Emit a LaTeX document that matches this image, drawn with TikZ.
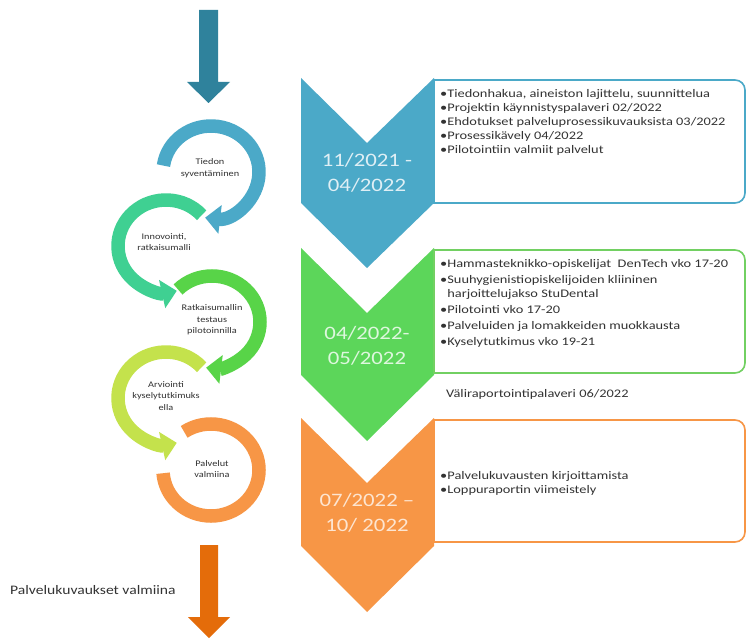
\documentclass[tikz,border=0pt]{standalone}
\usepackage{fontspec}
\setmainfont{Carlito}
\newfontfamily\wf[FakeStretch=1.2]{Carlito}
\newfontfamily\wfb[FakeStretch=1.24]{Carlito}
\usetikzlibrary{arrows.meta}
\definecolor{cBlue}{HTML}{4BA9C8}
\definecolor{cDark}{HTML}{2F829C}
\definecolor{cTeal}{HTML}{3FD092}
\definecolor{cGreen}{HTML}{58D448}
\definecolor{cYel}{HTML}{C4E24C}
\definecolor{cOr}{HTML}{F79646}
\definecolor{cDOr}{HTML}{E46C0A}
\definecolor{cChevG}{HTML}{5CD65A}
\definecolor{cBoxG}{HTML}{72D062}
\definecolor{cTxt}{HTML}{333333}
\tikzset{
  band/.style={line width=13.5pt},
  tipped/.style={-{Triangle[width=28pt,length=15pt]}},
  lbl/.style={align=center, inner sep=0pt, text=cTxt, font=\wf\fontsize{8.6}{11.5}\selectfont},
  chevtxt/.style={align=center, inner sep=0pt, font=\wf\fontsize{19}{25}\selectfont},
  boxtxt/.style={align=left, inner sep=0pt, anchor=north west, text=cTxt, font=\wfb\fontsize{11.6}{14}\selectfont},
  infobox/.style={line width=1.6pt, fill=white}
}
\begin{document}
\begin{tikzpicture}[x=1pt,y=1pt]
\useasboundingbox[fill=white] (0,0) rectangle (747,-639);

% top and bottom arrows
\fill[cDark] (199,-10) -- (218,-10) -- (218,-82) -- (230,-82) -- (208.5,-103) -- (187,-82) -- (199,-82) -- cycle;
\fill[cDOr] (200,-545) -- (218,-545) -- (218,-617) -- (230,-617) -- (209,-638) -- (188,-617) -- (200,-617) -- cycle;

% circular arrows
\draw[band, cBlue, tipped, shift={(211,-172)}] (172:48 and 46) arc[start angle=172, end angle=-97, x radius=48, y radius=46];
\draw[band, cTeal, tipped, shift={(166,-246)}] (42:48 and 46) arc[start angle=42, end angle=283, x radius=48, y radius=46];
\draw[band, cGreen, tipped, shift={(212,-322)}] (135:48 and 46) arc[start angle=135, end angle=-97, x radius=48, y radius=46];
\draw[band, cYel, tipped, shift={(166,-398)}] (42:48 and 46) arc[start angle=42, end angle=283, x radius=48, y radius=46];
\draw[band, cOr, shift={(211,-470)}] (124:48 and 46) arc[start angle=124, end angle=-176, x radius=48, y radius=46];

\node[lbl] (l1) at (210,-168) {Tiedon\\syventäminen};
\node[lbl] (l2) at (164,-242) {Innovointi,\\ratkaisumalli};
\node[lbl] (l3) at (212,-320) {Ratkaisumallin\\testaus\\pilotoinnilla};
\node[lbl] (l4) at (166,-396) {Arviointi\\kyselytutkimuks\\ella};
\node[lbl] (l5) at (212,-469) {Palvelut\\valmiina};

\node[anchor=west, inner sep=0pt, text=cTxt, font=\wf\fontsize{13}{15}\selectfont] (out) at (10,-590) {Palvelukuvaukset valmiina};

% chevrons
\fill[cBlue] (301,-78) -- (367,-143) -- (434,-78) -- (434,-203) -- (367,-268) -- (301,-203) -- cycle;
\fill[cChevG] (301,-248) -- (367,-313) -- (434,-248) -- (434,-375) -- (367,-441) -- (301,-375) -- cycle;
\fill[cOr] (301,-418) -- (367,-483) -- (434,-418) -- (434,-546) -- (367,-612) -- (301,-546) -- cycle;

\node[chevtxt, text=white!82!cBlue] (d1) at (367,-173) {11/2021 -\\04/2022};
\node[chevtxt, text=white!80!cChevG] (d2) at (367,-346) {04/2022-\\05/2022};
\node[chevtxt, text=white!75!cOr] (d3) at (367,-513) {07/2022 –\\10/ 2022};

% boxes
\draw[infobox, draw=cBlue] (434,-80) -- (735,-80) arc[start angle=90, end angle=0, radius=10] -- (745,-193) arc[start angle=0, end angle=-90, radius=10] -- (434,-203) -- cycle;
\draw[infobox, draw=cBoxG] (434,-250) -- (735,-250) arc[start angle=90, end angle=0, radius=10] -- (745,-363) arc[start angle=0, end angle=-90, radius=10] -- (434,-373) -- cycle;
\draw[infobox, draw=cOr] (434,-420) -- (735,-420) arc[start angle=90, end angle=0, radius=10] -- (745,-532) arc[start angle=0, end angle=-90, radius=10] -- (434,-542) -- cycle;

\node[boxtxt] (t1) at (440,-89) {•Tiedonhakua, aineiston lajittelu, suunnittelua\\•Projektin käynnistyspalaveri 02/2022\\•Ehdotukset palveluprosessikuvauksista 03/2022\\•Prosessikävely 04/2022\\•Pilotointiin valmiit palvelut};
\node[boxtxt] (t2) at (440,-259) {•Hammasteknikko-opiskelijat\ \ DenTech vko 17-20\\[2pt]•Suuhygienistiopiskelijoiden kliininen\\\phantom{•}harjoittelujakso StuDental\\[2pt]•Pilotointi vko 17-20\\[2pt]•Palveluiden ja lomakkeiden muokkausta\\[2pt]•Kyselytutkimus vko 19-21};
\node[anchor=west, inner sep=0pt, text=cTxt, font=\wfb\fontsize{11.6}{14}\selectfont] (v) at (446,-394) {Väliraportointipalaveri 06/2022};
\node[boxtxt] (t3) at (440,-471) {•Palvelukuvausten kirjoittamista\\•Loppuraportin viimeistely};
\end{tikzpicture}
\end{document}
